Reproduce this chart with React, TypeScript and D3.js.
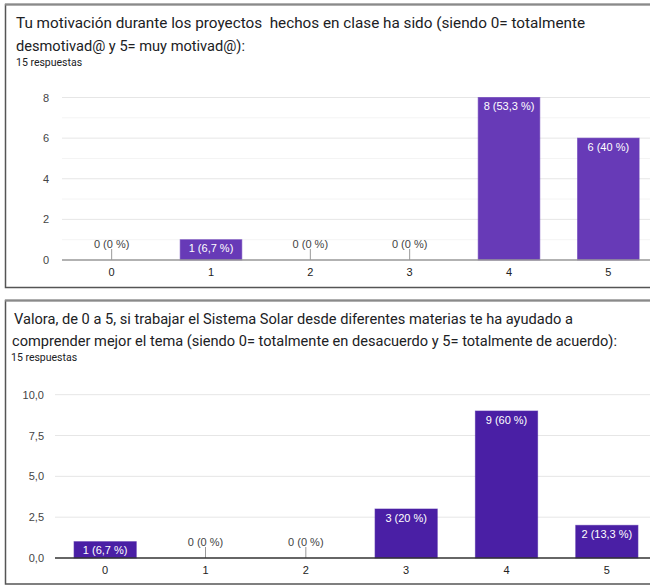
import * as d3 from 'd3';

const categories = ['0', '1', '2', '3', '4', '5'];
const totalRespuestas = 15;

const motivacionTitle = [
  'Tu motivación durante los proyectos  hechos en clase ha sido (siendo 0= totalmente',
  'desmotivad@ y 5= muy motivad@):',
];
const motivacionValues = [0, 1, 0, 0, 8, 6];
const motivacionTicks = [0, 2, 4, 6, 8];
const motivacionMinor = [1, 3, 5, 7];

const ayudaTitle = [
  'Valora, de 0 a 5, si trabajar el Sistema Solar desde diferentes materias te ha ayudado a',
  'comprender mejor el tema (siendo 0= totalmente en desacuerdo y 5= totalmente de acuerdo):',
];
const ayudaValues = [1, 0, 0, 3, 9, 2];
const ayudaTicks = [0, 2.5, 5, 7.5, 10];

const W = 650;
const H = 586;
const axisFont = '"Liberation Sans", Arial, sans-serif';
const titleFont = 'Roboto, "Noto Sans", sans-serif';

function pctLabel(v: number) {
  const p = Math.round((v / totalRespuestas) * 1000) / 10;
  return `${v} (${String(p).replace('.', ',')} %)`;
}

type TitleLine = { x: number; y: number; len: number };

type PanelProps = {
  top: number;
  bottom: number;
  title: string[];
  titleLines: TitleLine[];
  titleSize: number;
  respX: number;
  respY: number;
  values: number[];
  ticks: number[];
  minor?: number[];
  tickFmt: (v: number) => string;
  yMax: number;
  y0: number;
  y1: number;
  x0: number;
  x1: number;
  labelRight: number;
  color: string;
  baseColor: string;
};

function Panel(p: PanelProps) {
  const x = d3
    .scaleBand<string>()
    .domain(categories)
    .range([p.x0, p.x1])
    .paddingInner(0.38)
    .paddingOuter(0.19);
  const y = d3.scaleLinear().domain([0, p.yMax]).range([p.y0, p.y1]);

  return (
    <g>
      {/* panel frame */}
      <rect
        x={5.5}
        y={p.top}
        width={W + 20}
        height={p.bottom - p.top}
        fill="#fff"
        stroke="#555"
        strokeWidth={1.5}
      />
      <line x1={5} x2={W} y1={p.top} y2={p.top} stroke="#8a8a8a" strokeWidth={2} />

      {p.title.map((t, i) => (
        <text
          key={i}
          x={p.titleLines[i].x}
          y={p.titleLines[i].y}
          textLength={p.titleLines[i].len}
          lengthAdjust="spacingAndGlyphs"
          fontFamily={titleFont}
          fontSize={p.titleSize}
          fill="#202124"
          style={{ whiteSpace: 'pre' }}
        >
          {t}
        </text>
      ))}
      <text x={p.respX} y={p.respY} fontFamily={titleFont} fontSize={10.5} fill="#202124">
        {totalRespuestas} respuestas
      </text>

      {/* gridlines */}
      {(p.minor || []).map((v) => (
        <line key={'m' + v} x1={p.x0} x2={W} y1={y(v)} y2={y(v)} stroke="#f4f4f4" />
      ))}
      {p.ticks.map((v) => (
        <g key={'t' + v}>
          {v > 0 && <line x1={p.x0} x2={W} y1={y(v)} y2={y(v)} stroke="#e6e6e6" />}
          <text
            x={p.labelRight}
            y={y(v) + 4}
            textAnchor="end"
            fontFamily={axisFont}
            fontSize={11}
            fill="#444"
          >
            {p.tickFmt(v)}
          </text>
        </g>
      ))}

      {/* bars */}
      {p.values.map((v, i) => {
        const c = categories[i];
        const cx = (x(c) || 0) + x.bandwidth() / 2;
        if (v === 0) {
          return (
            <g key={c}>
              <line x1={cx} x2={cx} y1={p.y0 - 11} y2={p.y0} stroke="#999" />
              <text
                x={cx}
                y={p.y0 - 12.5}
                textAnchor="middle"
                fontFamily={axisFont}
                fontSize={11}
                fill="#444"
              >
                {pctLabel(v)}
              </text>
            </g>
          );
        }
        return (
          <g key={c}>
            <rect
              x={x(c)}
              y={y(v)}
              width={x.bandwidth()}
              height={p.y0 - y(v)}
              fill={p.color}
              stroke={p.color}
              strokeOpacity={0.6}
            />
            <text
              x={cx}
              y={y(v) + 12.5}
              textAnchor="middle"
              fontFamily={axisFont}
              fontSize={11}
              fill="#fff"
            >
              {pctLabel(v)}
            </text>
          </g>
        );
      })}

      {/* baseline */}
      <line x1={p.x0} x2={W} y1={p.y0} y2={p.y0} stroke={p.baseColor} strokeWidth={1.5} />

      {/* x labels */}
      {categories.map((c) => (
        <text
          key={'x' + c}
          x={(x(c) || 0) + x.bandwidth() / 2}
          y={p.y0 + 16}
          textAnchor="middle"
          fontFamily={axisFont}
          fontSize={11}
          fill="#222"
        >
          {c}
        </text>
      ))}
    </g>
  );
}

export default function App() {
  return (
    <svg
      width={W}
      height={H}
      style={{ position: 'absolute', left: 0, top: 0, display: 'block', background: '#fff' }}
    >
      <Panel
        top={4.5}
        bottom={287.5}
        title={motivacionTitle}
        titleLines={[
          { x: 16, y: 28, len: 569 },
          { x: 16, y: 51, len: 229 },
        ]}
        titleSize={15.5}
        respX={16}
        respY={66}
        values={motivacionValues}
        ticks={motivacionTicks}
        minor={motivacionMinor}
        tickFmt={(v) => String(v)}
        yMax={8}
        y0={260}
        y1={97.5}
        x0={62}
        x1={658}
        labelRight={49}
        color="#673ab7"
        baseColor="#999"
      />
      <Panel
        top={300.5}
        bottom={584}
        title={ayudaTitle}
        titleLines={[
          { x: 14, y: 324, len: 559 },
          { x: 12, y: 346, len: 605 },
        ]}
        titleSize={14.5}
        respX={11}
        respY={361}
        values={ayudaValues}
        ticks={ayudaTicks}
        tickFmt={(v) => d3.format('.1f')(v).replace('.', ',')}
        yMax={10}
        y0={558}
        y1={394.7}
        x0={55}
        x1={657}
        labelRight={44}
        color="#4a1fa5"
        baseColor="#333"
      />
    </svg>
  );
}
